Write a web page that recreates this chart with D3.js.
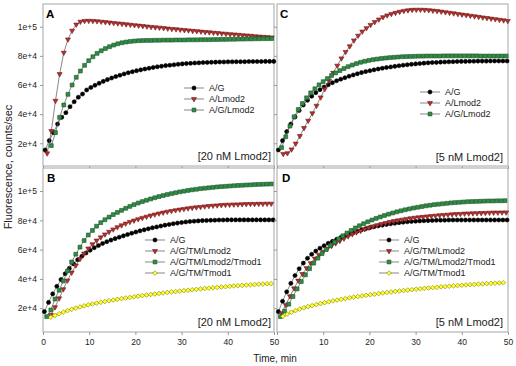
<!DOCTYPE html>
<html>
<head>
<meta charset="utf-8">
<script src="https://cdn.jsdelivr.net/npm/d3@7"></script>
<style>
  body { margin: 0; background: #fff; }
  svg { display: block; font-family: "Liberation Sans", Arial, sans-serif; }
</style>
</head>
<body>
<div id="chart"></div>
<script>
// sampling grid (min); each trace starts at its own lag after mixing
var timeGrid = [0,0.9,1.8,2.7,3.6,4.5,5.4,6.3,7.2,8.1,9,9.9,10.8,11.7,12.6,13.5,14.4,15.3,16.2,17.1,
  18,18.9,19.8,20.7,21.6,22.5,23.4,24.3,25.2,26.1,27,27.9,28.8,29.7,30.6,31.5,32.4,33.3,34.2,35.1,
  36,36.9,37.8,38.7,39.6,40.5,41.4,42.3,43.2,44.1,45,45.9,46.8,47.7,48.6,49.5];

// fluorescence, thousands of counts/sec

// A - 20 nM Lmod2
var aLags = [0.45, 0.9, 1.8];
var aAG = [15.4,21.8,27.3,33.2,37.8,41.0,45.1,48.5,51.6,53.8,56.6,58.3,59.8,61.2,62.5,63.7,64.8,65.8,66.7,67.6,
  68.4,69.1,69.8,70.4,71.0,71.5,72.0,72.5,72.9,73.3,73.6,73.9,74.2,74.5,74.7,74.9,75.1,75.2,75.4,75.5,
  75.6,75.7,75.8,75.8,75.9,75.9,76.0,76.0,76.0,76.1,76.1,76.1,76.1,76.2,76.2,76.2];
var aALmod2 = [13.1,28.4,49.2,67.5,82.2,91.3,97.3,101.5,103.5,104.0,104.1,104.0,103.8,103.5,103.2,102.9,102.6,102.3,102.0,101.7,
  101.4,101.1,100.8,100.5,100.2,99.9,99.6,99.4,99.1,98.8,98.5,98.3,98.0,97.7,97.5,97.2,97.0,96.7,96.4,96.2,
  95.9,95.7,95.4,95.2,94.9,94.7,94.5,94.2,94.0,93.8,93.5,93.3,93.1,92.9,92.7];
var aAGLmod2 = [18.4,27.3,37.8,46.3,53.6,60.0,65.3,69.6,73.5,76.7,79.4,81.7,83.5,85.0,86.3,87.4,88.3,89.0,89.5,89.9,
  90.2,90.4,90.5,90.6,90.6,90.7,90.7,90.8,90.8,90.8,90.9,90.9,90.9,91.0,91.0,91.0,91.1,91.1,91.1,91.2,
  91.2,91.3,91.3,91.4,91.4,91.5,91.5,91.6,91.6,91.7,91.7,91.8,91.8,91.9];

// C - 5 nM Lmod2
var cLags = [0.3, 1.35, 1.0];
var cAG = [15.4,21.8,28.0,33.2,38.0,42.5,46.3,49.5,52.3,54.7,56.8,58.6,60.2,61.6,62.9,64.0,65.0,66.0,66.9,67.7,
  68.5,69.2,69.8,70.4,71.0,71.5,72.0,72.4,72.8,73.2,73.6,73.9,74.2,74.5,74.7,75.0,75.2,75.4,75.5,75.7,
  75.8,75.9,76.0,76.1,76.2,76.2,76.3,76.3,76.4,76.4,76.4,76.5,76.5,76.5,76.5,76.5];
var cALmod2 = [12.7,13.2,15.8,19.8,25.0,30.5,35.5,40.6,45.8,51.5,57.3,63.0,68.4,73.3,78.3,82.7,86.6,90.6,93.9,96.7,
  99.0,101.3,103.2,105.0,106.6,107.8,108.8,109.6,110.3,110.9,111.3,111.6,111.7,111.7,111.6,111.4,111.1,110.8,110.4,110.0,
  109.6,109.2,108.8,108.4,108.0,107.6,107.2,106.8,106.4,106.0,105.6,105.2,104.8,104.4,104.0];
var cAGLmod2 = [17.0,24.5,31.8,38.2,43.2,47.3,51.2,54.6,57.4,60.1,62.3,64.4,66.5,68.3,69.9,71.3,72.6,73.7,74.7,75.6,
  76.3,76.9,77.4,77.8,78.2,78.5,78.8,79.0,79.2,79.4,79.5,79.6,79.7,79.8,79.8,79.9,79.9,79.9,79.9,80.0,
  80.0,80.0,80.0,80.0,80.0,80.0,80.0,80.0,79.9,79.9,79.9,79.9,79.9,79.9,79.9];

// B - 20 nM Lmod2, with tropomyosin
var bLags = [0.3, 1.7, 0.8, 1.7];
var bAG = [17.7,24.0,29.8,35.0,39.6,43.6,47.2,50.3,53.1,55.5,57.7,59.6,61.3,62.8,64.2,65.4,66.5,67.5,68.5,69.4,
  70.3,71.2,72.0,72.8,73.5,74.2,74.9,75.5,76.1,76.7,77.2,77.7,78.1,78.5,78.9,79.2,79.4,79.6,79.8,79.9,
  80.0,80.1,80.2,80.2,80.3,80.3,80.3,80.3,80.3,80.3,80.3,80.3,80.3,80.3,80.3,80.3];
var bLmod2 = [15.5,20.7,26.8,33.0,39.0,44.4,49.2,53.6,57.4,60.8,63.7,66.2,68.4,70.4,72.2,73.8,75.3,76.6,77.8,78.9,
  79.9,80.8,81.7,82.5,83.3,84.0,84.7,85.3,85.9,86.4,86.9,87.4,87.8,88.2,88.6,88.9,89.2,89.5,89.8,90.0,
  90.2,90.4,90.6,90.7,90.8,90.9,91.0,91.1,91.2,91.2,91.3,91.3,91.4,91.4];
var bLmod2Tmod1 = [14.3,18.8,26.3,32.3,38.6,45.4,51.6,56.9,61.7,66.2,70.0,73.1,76.0,78.4,80.4,82.2,83.9,85.4,86.8,88.2,
  89.5,90.7,91.8,92.8,93.7,94.6,95.4,96.2,96.9,97.6,98.2,98.8,99.4,99.9,100.4,100.8,101.2,101.6,101.9,102.2,
  102.5,102.8,103.0,103.2,103.4,103.6,103.8,103.9,104.1,104.2,104.4,104.5,104.6,104.7,104.8];
var bTmod1 = [13.9,15.1,16.3,17.4,18.4,19.3,20.1,20.9,21.6,22.3,22.9,23.5,24.1,24.6,25.1,25.6,26.1,26.6,27.0,27.4,
  27.8,28.2,28.6,29.0,29.4,29.7,30.1,30.4,30.8,31.1,31.4,31.7,32.0,32.3,32.6,32.9,33.2,33.5,33.7,34.0,
  34.2,34.5,34.7,35.0,35.2,35.4,35.6,35.8,36.0,36.2,36.4,36.5,36.7,36.8];

// D - 5 nM Lmod2, with tropomyosin
var dLags = [0.3, 1.0, 0.75, 1.3];
var dAG = [17.7,24.8,31.2,37.0,42.3,46.9,50.8,54.1,56.8,59.0,61.0,62.7,64.3,65.7,67.0,68.3,69.5,70.6,71.6,72.6,
  73.5,74.3,75.0,75.6,76.2,76.7,77.2,77.6,78.0,78.4,78.7,79.0,79.2,79.4,79.6,79.7,79.8,79.9,80.0,80.1,
  80.1,80.2,80.2,80.2,80.2,80.2,80.2,80.2,80.2,80.2,80.2,80.2,80.2,80.2,80.2,80.2];
var dLmod2 = [16.6,22.3,28.2,33.6,38.9,43.4,47.4,50.8,53.9,56.4,58.6,60.7,62.6,64.3,66.0,67.6,69.1,70.5,71.8,72.9,
  74.0,75.0,75.9,76.7,77.5,78.2,78.9,79.5,80.0,80.5,81.0,81.4,81.8,82.1,82.4,82.7,83.0,83.2,83.5,83.7,
  83.9,84.1,84.3,84.4,84.6,84.7,84.8,84.9,85.0,85.1,85.2,85.3,85.3,85.4,85.4];
var dLmod2Tmod1 = [14.3,18.0,22.8,28.0,33.2,38.2,42.8,47.0,50.8,54.2,57.3,60.1,62.7,65.1,67.3,69.4,71.3,73.1,74.8,76.3,
  77.7,79.0,80.2,81.3,82.3,83.3,84.2,85.0,85.8,86.5,87.2,87.8,88.4,88.9,89.4,89.9,90.3,90.7,91.0,91.3,
  91.6,91.9,92.1,92.3,92.5,92.7,92.8,92.9,93.0,93.1,93.2,93.2,93.3,93.3,93.4];
var dTmod1 = [14.5,16.0,17.3,18.4,19.4,20.3,21.1,21.8,22.5,23.2,23.8,24.4,25.0,25.6,26.1,26.6,27.1,27.6,28.0,28.4,
  28.8,29.2,29.6,30.0,30.4,30.8,31.1,31.5,31.8,32.1,32.4,32.7,33.0,33.3,33.6,33.8,34.1,34.3,34.6,34.8,
  35.0,35.3,35.5,35.7,35.9,36.1,36.3,36.5,36.6,36.8,37.0,37.1,37.3,37.4];

var labelsNoTM = ["A/G", "A/Lmod2", "A/G/Lmod2"];
var labelsTM = ["A/G", "A/G/TM/Lmod2", "A/G/TM/Lmod2/Tmod1", "A/G/TM/Tmod1"];
var yTickValues = [20, 40, 60, 80, 100];
var xTickValues = [0, 10, 20, 30, 40, 50];

var panels = [
  {letter: "A", note: "[20 nM Lmod2]", labels: labelsNoTM, lags: aLags, series: [aAG, aALmod2, aAGLmod2]},
  {letter: "C", note: "[5 nM Lmod2]", labels: labelsNoTM, lags: cLags, series: [cAG, cALmod2, cAGLmod2]},
  {letter: "B", note: "[20 nM Lmod2]", labels: labelsTM, lags: bLags, series: [bAG, bLmod2, bLmod2Tmod1, bTmod1]},
  {letter: "D", note: "[5 nM Lmod2]", labels: labelsTM, lags: dLags, series: [dAG, dLmod2, dLmod2Tmod1, dTmod1]}
];

// layout (pixels)
var boxes = {
  A: {x0: 43, x1: 274, y0: 4, y1: 166, yDom: [4.4, 115.6], yLab: true, xLab: false, leg: [184, 88], letterPos: [46, 18], notePos: [271, 160]},
  C: {x0: 277, x1: 508, y0: 4, y1: 166, yDom: [4.4, 115.6], yLab: false, xLab: false, leg: [420, 92], letterPos: [280, 18], notePos: [503, 161]},
  B: {x0: 43, x1: 274, y0: 168, y1: 332, yDom: [3.8, 115.7], yLab: true, xLab: true, leg: [145, 240], letterPos: [47, 182], notePos: [271, 326]},
  D: {x0: 277, x1: 508, y0: 168, y1: 332, yDom: [3.8, 115.7], yLab: false, xLab: true, skipZero: true, leg: [379, 240], letterPos: [282, 182], notePos: [503, 326]}
};

var markers = [
  {type: d3.symbolCircle, size: 13, fill: "#000000", stroke: "#000000", rot: 0},
  {type: d3.symbolTriangle, size: 11, fill: "#b2302e", stroke: "#741a1a", rot: 180},
  {type: d3.symbolSquare, size: 15, fill: "#2f8c45", stroke: "#1b5526", rot: 0},
  {type: d3.symbolSquare, size: 11, fill: "#ffff33", stroke: "#8c8c00", rot: 45}
];

var svg = d3.select("#chart").append("svg")
  .attr("width", 516)
  .attr("height", 366);

var yFmt = function(d) { return d3.format(".0e")(d * 1000); };

function drawMarker(g, m, x, y) {
  g.append("path")
    .attr("d", d3.symbol().type(m.type).size(m.size)())
    .attr("transform", "translate(" + x + "," + y + ") rotate(" + m.rot + ")")
    .attr("fill", m.fill)
    .attr("stroke", m.stroke)
    .attr("stroke-width", 0.6);
}

panels.forEach(function(p) {
  var b = boxes[p.letter];
  var x = d3.scaleLinear().domain([0, 50]).range([b.x0, b.x1]);
  var y = d3.scaleLinear().domain(b.yDom).range([b.y1, b.y0]);
  var g = svg.append("g");

  g.append("rect")
    .attr("x", b.x0).attr("y", b.y0)
    .attr("width", b.x1 - b.x0).attr("height", b.y1 - b.y0)
    .attr("fill", "#fff").attr("stroke", "#a6a6a6").attr("stroke-width", 1);

  // y axis
  var ya = g.append("g")
    .attr("transform", "translate(" + b.x0 + ",0)")
    .call(d3.axisLeft(y).tickValues(yTickValues).tickSize(3)
      .tickFormat(b.yLab ? yFmt : ""));
  // x axis
  var xa = g.append("g")
    .attr("transform", "translate(0," + b.y1 + ")")
    .call(d3.axisBottom(x).tickValues(xTickValues).tickSize(3)
      .tickFormat(function(d) {
        if (!b.xLab) return "";
        if (b.skipZero && d === 0) return "";
        return d;
      }));
  [ya, xa].forEach(function(a) {
    a.select(".domain").remove();
    a.selectAll(".tick line").attr("stroke", "#999");
    a.selectAll(".tick text").attr("fill", "#222")
      .style("font-family", "Liberation Sans, Arial, sans-serif")
      .style("font-size", "8.5px");
  });
  ya.selectAll(".tick text").attr("x", -6);
  xa.selectAll(".tick text").attr("y", 7);

  // traces
  var line = d3.line()
    .x(function(d) { return x(d[0]); })
    .y(function(d) { return y(d[1]); });

  p.series.forEach(function(vals, si) {
    var pts = vals.map(function(v, i) { return [p.lags[si] + timeGrid[i], v]; });
    g.append("path")
      .datum(pts)
      .attr("d", line)
      .attr("fill", "none")
      .attr("stroke", "#555")
      .attr("stroke-width", 0.7);
    var mg = g.append("g");
    pts.forEach(function(d) { drawMarker(mg, markers[si], x(d[0]), y(d[1])); });
  });

  // legend
  p.labels.forEach(function(lab, i) {
    var lx = b.leg[0], ly = b.leg[1] + i * 11;
    g.append("line")
      .attr("x1", lx).attr("x2", lx + 20)
      .attr("y1", ly).attr("y2", ly)
      .attr("stroke", "#555").attr("stroke-width", 0.7);
    drawMarker(g, markers[i], lx + 10, ly);
    g.append("text")
      .attr("x", lx + 25).attr("y", ly + 3.2)
      .attr("font-size", "9px").attr("fill", "#222")
      .text(lab);
  });

  g.append("text")
    .attr("x", b.letterPos[0]).attr("y", b.letterPos[1])
    .attr("font-size", "11.5px").attr("font-weight", "bold")
    .text(p.letter);

  g.append("text")
    .attr("x", b.notePos[0]).attr("y", b.notePos[1])
    .attr("text-anchor", "end")
    .attr("font-size", "11px").attr("fill", "#222")
    .text(p.note);
});

// axis titles
svg.append("text")
  .attr("transform", "translate(11.5,167) rotate(-90)")
  .attr("text-anchor", "middle")
  .attr("font-size", "11px").attr("fill", "#222")
  .text("Fluorescence, counts/sec");

svg.append("text")
  .attr("x", 275).attr("y", 362)
  .attr("text-anchor", "middle")
  .attr("font-size", "10px").attr("fill", "#222")
  .text("Time, min");
</script>
</body>
</html>
